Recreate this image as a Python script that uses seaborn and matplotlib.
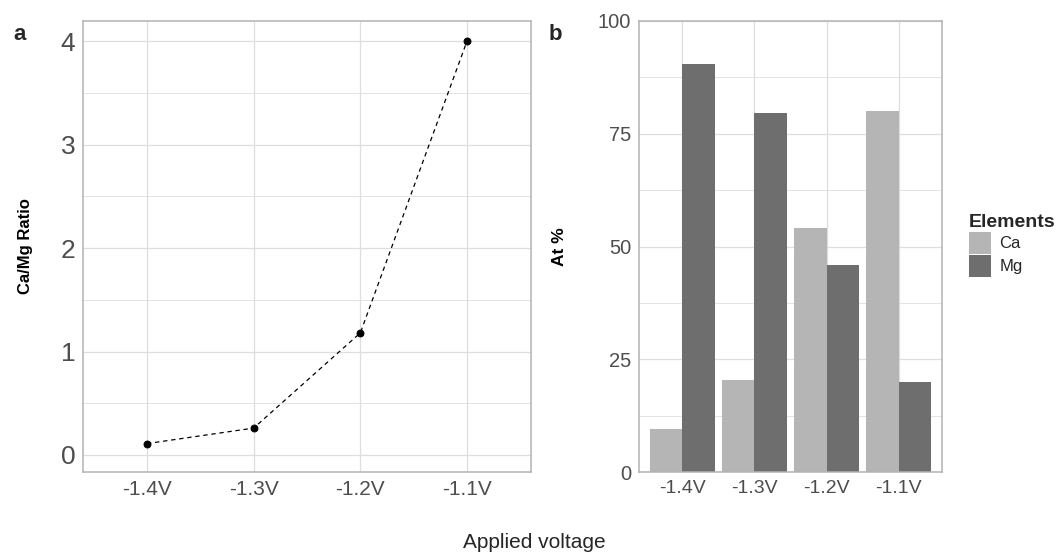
"""
Ca/Mg ratio and atomic % of Ca and Mg against applied voltage
Outputs out.png
"""

import matplotlib.pyplot as plt
import pandas as pd
import seaborn as sns
from matplotlib.ticker import MultipleLocator

voltages = ["-1.4V", "-1.3V", "-1.2V", "-1.1V"]
ca_mg_ratio = [0.11, 0.26, 1.18, 4.00]
ca_pct = [9.6, 20.3, 54.2, 80.0]
mg_pct = [90.4, 79.7, 45.8, 20.0]
elements = ["Ca", "Mg"]

GRID = "#dedede"
BORDER = "#b3b3b3"
TICK_TXT = "#4d4d4d"


def style_axes(ax, ysize, xsize):
    ax.set_facecolor("white")
    for s in ax.spines.values():
        s.set_visible(True)
        s.set_color(BORDER)
        s.set_linewidth(1.1)
    ax.grid(True, which="major", color=GRID, linewidth=0.9)
    ax.grid(True, which="minor", axis="y", color=GRID, linewidth=0.6)
    ax.tick_params(axis="both", which="major", length=3.5, width=0.8,
                   color=BORDER, labelcolor=TICK_TXT, pad=2)
    ax.tick_params(axis="y", which="minor", length=0)
    ax.tick_params(axis="y", labelsize=ysize)
    ax.tick_params(axis="x", labelsize=xsize)
    ax.set_axisbelow(True)


def main():
    sns.set_theme(style="whitegrid")
    plt.rcParams["font.family"] = ["Liberation Sans", "DejaVu Sans"]

    fig = plt.figure(figsize=(10.58, 5.54), dpi=100)
    W, H = 1058, 554
    ax1 = fig.add_axes([83 / W, 1 - 472 / H, 448 / W, 451 / H])
    ax2 = fig.add_axes([639 / W, 1 - 472 / H, 303 / W, 451 / H])

    # panel a: ratio
    ratio_df = pd.DataFrame({"voltage": voltages, "ratio": ca_mg_ratio})
    sns.pointplot(data=ratio_df, x="voltage", y="ratio", color="black",
                  markers="o", linestyles="--", markersize=5,
                  linewidth=0.9, ax=ax1)
    for ln in ax1.lines:
        ln.set_dashes((3.5, 3))
    lo, hi = min(ca_mg_ratio), max(ca_mg_ratio)
    pad = (hi - lo) * 0.05
    ax1.set_ylim(lo - pad - 0.08, hi + pad)
    ax1.set_xlim(-0.6, len(voltages) - 0.4)
    ax1.yaxis.set_major_locator(MultipleLocator(1))
    ax1.yaxis.set_minor_locator(MultipleLocator(0.5))
    style_axes(ax1, 19, 15)
    ax1.set_xlabel("")
    ax1.set_ylabel("Ca/Mg Ratio", fontsize=12, fontweight="bold",
                   color="black")
    ax1.yaxis.set_label_coords(-0.112, 0.5)

    # panel b: atomic %
    bar_df = pd.DataFrame({
        "voltage": voltages * 2,
        "at": ca_pct + mg_pct,
        "element": [elements[0]] * 4 + [elements[1]] * 4,
    })
    sns.barplot(data=bar_df, x="voltage", y="at", hue="element",
                palette={"Ca": "#b5b5b5", "Mg": "#6e6e6e"}, width=0.9,
                saturation=1, linewidth=0, ax=ax2)
    ax2.set_ylim(0, 100)
    ax2.set_xlim(-0.6, len(voltages) - 0.4)
    ax2.yaxis.set_major_locator(MultipleLocator(25))
    ax2.yaxis.set_minor_locator(MultipleLocator(12.5))
    style_axes(ax2, 14.5, 14)
    ax2.set_xlabel("")
    ax2.set_ylabel("At %", fontsize=12.5, fontweight="bold", color="black")
    ax2.yaxis.set_label_coords(-0.238, 0.5)

    handles, labels = ax2.get_legend_handles_labels()
    ax2.get_legend().remove()
    fig.legend(handles, labels, title="Elements", loc="upper left",
               bbox_to_anchor=(969 / W, 1 - 214 / H), frameon=False,
               fontsize=12, title_fontproperties={"weight": "bold",
                                                  "size": 14},
               handlelength=1.32, handleheight=1.65, labelspacing=0.05,
               handletextpad=0.5, borderaxespad=0, borderpad=0,
               alignment="left")

    fig.text(13 / W, 1 - 40 / H, "a", fontsize=16, fontweight="bold")
    fig.text(549 / W, 1 - 40 / H, "b", fontsize=16, fontweight="bold")
    fig.text(534 / W, 1 - 543 / H, "Applied voltage", fontsize=15,
             ha="center", va="center")

    fig.savefig("out.png", dpi=100)


if __name__ == "__main__":
    main()
